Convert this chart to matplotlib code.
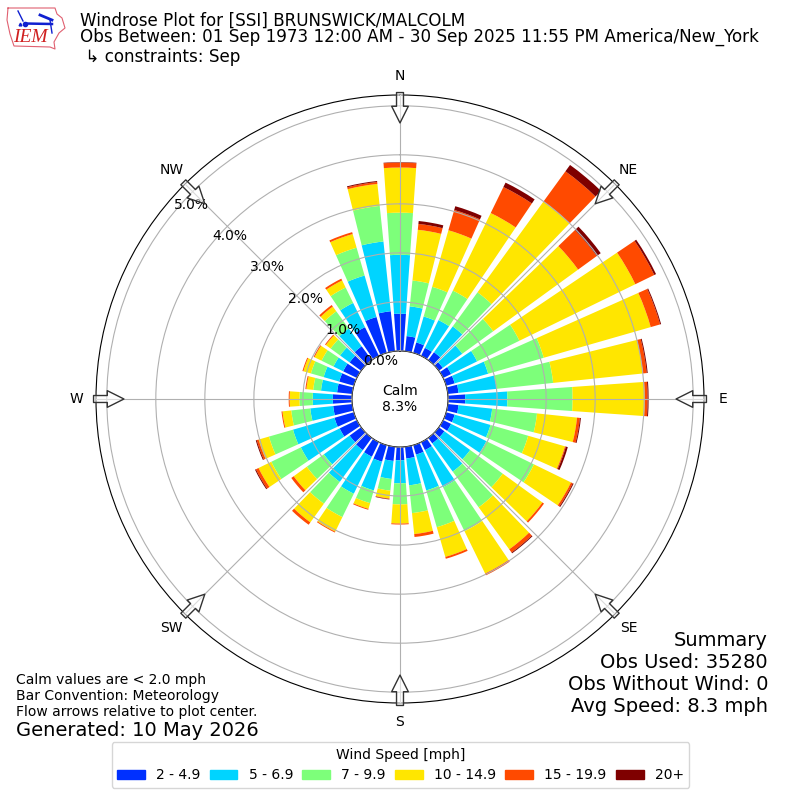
import numpy as np
import matplotlib
matplotlib.use("Agg")
import matplotlib.pyplot as plt
from matplotlib.patches import Patch

directions = np.arange(0, 360, 10)
speed_labels = ["2 - 4.9", "5 - 6.9", "7 - 9.9", "10 - 14.9", "15 - 19.9", "20+"]
colors = ["#0030ff", "#00d4ff", "#7dff7a", "#ffe600", "#ff4a00", "#7f0000"]
compass = ["N", "NE", "E", "SE", "S", "SW", "W", "NW"]
compass_deg = [0, 45, 90, 135, 180, 225, 270, 315]
rticks = [0, 1, 2, 3, 4, 5]

bin_2_5 = [.76,.31,.22,.18,.20,.10,.18,.18,.22,.35,.22,.18,.18,.14,.14,.18,.20,.24,
           .27,.29,.35,.33,.31,.29,.39,.41,.39,.39,.31,.31,.31,.29,.35,.65,.76,.82]
bin_5_7 = [1.20,.61,.55,.63,.65,.49,.59,.71,.78,.86,.69,.76,.80,.65,.71,.84,.76,.55,
           .47,.37,.61,.84,.80,.65,.88,.88,.47,.41,.33,.33,.22,.24,.45,.55,.88,1.43]
bin_7_10 = [.86,.53,.63,.67,.86,.78,.96,1.18,1.16,1.33,.92,.80,1.08,.82,.90,1.00,.78,.57,
            .43,.24,.27,.53,.55,.43,.67,.51,.39,.27,.16,.27,.27,.24,.43,.35,.59,.73]
bin_10_15 = [.92,1.04,1.20,1.76,2.29,2.14,2.63,2.27,1.84,1.47,.82,.78,.84,1.00,1.06,.96,.63,.43,
             .39,.16,.12,.33,.47,.33,.29,.22,.18,.20,.14,.16,.16,.12,.12,.16,.29,.45]
bin_15_20 = [.10,.12,.43,.59,.76,.47,.43,.20,.08,.06,.06,.02,.04,.04,.08,.04,.04,.06,
             .02,.01,.02,.02,.06,.06,.06,.04,.02,.02,.02,.02,.02,.02,.04,.04,.04,.04]
bin_20 = [.01,.06,.08,.10,.16,.10,.04,.02,.02,.02,.02,.04,.02,0,.02,0,0,0,
          0,.01,0,0,0,0,.02,.02,0,0,0,0,0,0,0,0,0,.02]
bins = [bin_2_5, bin_5_7, bin_7_10, bin_10_15, bin_15_20, bin_20]

logo_outline = [(8,8),(55,8),(57,14),(62,18),(65,28),(59,33),(54,42),(55,49),(50,47),(14,46),(10,34),(7,20),(8,8)]

fig = plt.figure(figsize=(8, 8), dpi=100)

ax = fig.add_axes([96/800, (800-399-304)/800, 608/800, 608/800], projection="polar")
ax.set_theta_zero_location("N")
ax.set_theta_direction(-1)
ax.set_axisbelow(False)

theta = np.deg2rad(directions)
width = np.deg2rad(8)
bottom = np.zeros(len(directions))
for vals, col in zip(bins, colors):
    vals = np.array(vals)
    ax.bar(theta, vals, width=width, bottom=bottom, color=col, linewidth=0)
    bottom = bottom + vals

ax.set_rorigin(-0.98)
ax.set_ylim(0, 5.22)
ax.set_yticks(rticks)
ax.set_yticklabels([f"{v:.1f}%" for v in rticks], fontsize=10)
ax.set_rlabel_position(309.7)
ax.set_xticks(np.deg2rad(compass_deg))
ax.set_xticklabels(compass, fontsize=10)
ax.tick_params(axis="x", pad=3.3)
ax.grid(True)

for d in compass_deg:
    ax.annotate("", xy=(np.deg2rad(d), 4.65), xytext=(np.deg2rad(d), 5.27),
                arrowprops=dict(arrowstyle="simple,head_length=12,head_width=12,tail_width=5",
                                mutation_scale=1, fc=(1, 1, 1, 0.55), ec="#333333", lw=1,
                                shrinkA=0, shrinkB=0),
                annotation_clip=False, zorder=5)

fig.text(400/800, 1-399/800, "Calm\n8.3%", ha="center", va="center", fontsize=10)

fig.text(80/800, 1-20.5/800, "Windrose Plot for [SSI] BRUNSWICK/MALCOLM", fontsize=12.05, va="center")
fig.text(80/800, 1-36.5/800, "Obs Between: 01 Sep 1973 12:00 AM - 30 Sep 2025 11:55 PM America/New_York", fontsize=12.05, va="center")
fig.text(80/800, 1-56.5/800, " \u21b3 constraints: Sep", fontsize=12.05, va="center")

fig.text(16/800, 1-696/800, "Calm values are < 2.0 mph\nBar Convention: Meteorology\nFlow arrows relative to plot center.",
         fontsize=10, va="center", linespacing=1.15)
fig.text(16/800, 1-730/800, "Generated: 10 May 2026", fontsize=14, va="center")
fig.text(768/800, 1-673/800, "Summary\nObs Used: 35280\nObs Without Wind: 0\nAvg Speed: 8.3 mph",
         fontsize=14, ha="right", va="center", linespacing=1.2)

handles = [Patch(color=c, label=l) for c, l in zip(colors, speed_labels)]
fig.legend(handles=handles, title="Wind Speed [mph]", ncol=6, loc="center",
           bbox_to_anchor=(400.5/800, 1-765/800), fontsize=10, title_fontsize=10,
           columnspacing=0.67)

logo = fig.add_axes([0, 0, 1, 1], facecolor="none")
logo.set_xlim(0, 800); logo.set_ylim(800, 0); logo.axis("off")
xs, ys = zip(*logo_outline)
logo.plot(xs, ys, color="#e06070", lw=0.8)
logo.plot([25, 52], [23.5, 24], color="#1020d0", lw=1.8)
logo.plot([25], [23.5], "o", color="#1020d0", ms=3)
logo.plot([20], [24], "^", color="#1020d0", ms=2)
logo.plot([18, 23], [11, 21], color="#1020d0", lw=1)
logo.plot([40, 52], [15, 20], color="#1020d0", lw=2)
logo.plot([50, 52], [20, 33], color="#1020d0", lw=1)
logo.text(30, 37.5, "IEM", color="#d02020", fontsize=14, family="Liberation Serif", style="italic",
          ha="center", va="center")

fig.savefig("out.png", dpi=100)
